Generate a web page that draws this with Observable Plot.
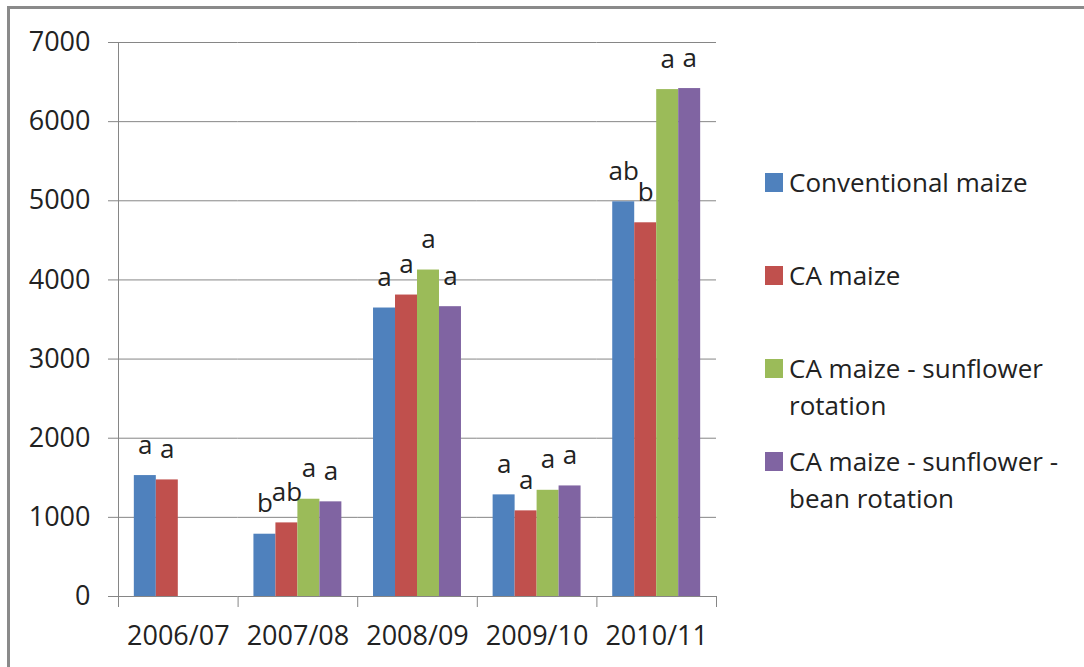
<!DOCTYPE html>
<html>
<head>
<meta charset="utf-8">
<script src="https://cdn.jsdelivr.net/npm/d3@7"></script>
<script src="https://cdn.jsdelivr.net/npm/@observablehq/plot@0.6"></script>
<style>
  html, body { margin: 0; padding: 0; background: #fff; }
  #wrap { position: relative; width: 1084px; height: 667px; overflow: hidden; font-family: "Open Sans", sans-serif; color: #222; }
  #border { position: absolute; left: 7px; top: 6px; width: 1300px; height: 900px; border: 3px solid #8a8a8a; box-sizing: border-box; }
  #chart { position: absolute; left: 0; top: 0; }
  #legend { position: absolute; left: 765px; top: 0; }
  .entry { position: absolute; left: 0; width: 300px; font-size: 26px; line-height: 37px; padding-left: 24px; box-sizing: border-box; }
  .sw { position: absolute; left: 0; top: 9px; width: 18px; height: 19px; }
</style>
</head>
<body>
<div id="wrap">
  <div id="border"></div>
  <div id="chart"></div>
  <div id="legend"></div>
</div>
<script>
const years = ["2006/07", "2007/08", "2008/09", "2009/10", "2010/11"];
const series = [
  "Conventional maize",
  "CA maize",
  "CA maize - sunflower rotation",
  "CA maize - sunflower - bean rotation"
];
const colors = ["#4F81BD", "#C0504D", "#9BBB59", "#8064A2"];
const yTicks = [0, 1000, 2000, 3000, 4000, 5000, 6000, 7000];

const conventionalMaize = [1528, 787, 3645, 1284, 4987];
const caMaize = [1473, 930, 3809, 1082, 4722];
const caSunflower = [null, 1229, 4125, 1342, 6405];
const caSunflowerBean = [null, 1196, 3662, 1397, 6418];

const lettersConventional = ["a", "b", "a", "a", "ab"];
const lettersCA = ["a", "ab", "a", "a", "b"];
const lettersSunflower = ["", "a", "a", "a", "a"];
const lettersSunflowerBean = ["", "a", "a", "a", "a"];

const values = [conventionalMaize, caMaize, caSunflower, caSunflowerBean];
const letters = [lettersConventional, lettersCA, lettersSunflower, lettersSunflowerBean];

const rows = [];
years.forEach((year, i) => {
  series.forEach((s, j) => {
    const v = values[j][i];
    if (v != null) rows.push({year, series: s, value: v, letter: letters[j][i]});
  });
});

const W = 730, H = 667, mT = 42, mB = 71, mL = 118, mR = 14;
const plotH = H - mT - mB;
const gray = "#868686";

const chart = Plot.plot({
  width: W,
  height: H,
  marginTop: mT,
  marginBottom: mB,
  marginLeft: mL,
  marginRight: mR,
  style: {fontFamily: "Open Sans, sans-serif", fontSize: "27px", color: "#222", background: "transparent", overflow: "visible"},
  fx: {domain: years, paddingInner: 0, paddingOuter: 0, round: false, label: null},
  x: {domain: series, paddingInner: 0, paddingOuter: 0.72, round: false, axis: null},
  y: {domain: [0, 7000], label: null},
  color: {domain: series, range: colors},
  marks: [
    Plot.gridY(yTicks, {stroke: gray, strokeOpacity: 1}),
    Plot.axisY(yTicks, {tickSize: 10, tickPadding: 18, stroke: gray, fill: "#222", label: null, tickFormat: d => String(d)}),
    Plot.axisFx({anchor: "bottom", tickSize: 0, tickPadding: 29, label: null, fill: "#222"}),
    Plot.barY(rows, {fx: "year", x: "series", y: "value", fill: "series"}),
    Plot.text(rows, {fx: "year", x: "series", y: "value", text: "letter", lineAnchor: "bottom", dy: -22, fill: "#222", fontSize: 26}),
    Plot.frame({anchor: "left", stroke: gray, insetTop: plotH, insetBottom: -10}),
    Plot.frame({anchor: "right", stroke: gray, insetTop: plotH, insetBottom: -10, fx: years[years.length - 1]}),
    Plot.frame({anchor: "left", stroke: gray, insetBottom: -10, fx: years[0]})
  ]
});
document.getElementById("chart").appendChild(chart);

const legend = document.getElementById("legend");
series.forEach((s, i) => {
  const e = document.createElement("div");
  e.className = "entry";
  e.style.top = (182 - 18.5 + i * 93) + "px";
  const sw = document.createElement("div");
  sw.className = "sw";
  sw.style.background = colors[i];
  e.appendChild(sw);
  e.appendChild(document.createTextNode(s));
  legend.appendChild(e);
});
</script>
</body>
</html>
